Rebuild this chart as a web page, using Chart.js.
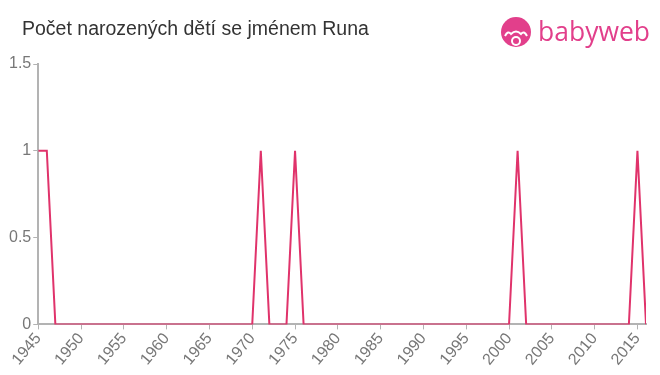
<!DOCTYPE html>
<html><head><meta charset="utf-8">
<script src="https://cdn.jsdelivr.net/npm/chart.js@4"></script>
<style>
html,body{margin:0;padding:0;background:#fff;}
#wrap{position:relative;width:660px;height:375px;}
#title{position:absolute;left:22px;top:17px;font-family:"Liberation Sans",Arial,sans-serif;font-size:19.5px;color:#333;}
#logo{position:absolute;left:500px;top:14px;width:160px;height:36px;}
canvas{position:absolute;left:0;top:0;}
</style></head>
<body><div id="wrap">
<canvas id="c" width="660" height="375"></canvas>
<div id="title">Počet narozených dětí se jménem Runa</div>
<svg id="logo" viewBox="0 0 160 36">
<circle cx="16" cy="18" r="15" fill="#e23f8b"/>
<circle cx="16" cy="27" r="5" fill="#fff"/>
<circle cx="16" cy="27" r="3" fill="#e23f8b"/>
<path d="M5 22 q3 -6 6 -2 q5 -5 10 0 q3 -4 6 2" stroke="#fff" stroke-width="2" fill="none"/>
<text x="38" y="27" font-family="Open Sans, Arial, sans-serif" font-size="26.5" fill="#e23f8b">babyweb</text>
</svg>
</div>
<script>
const years = [1945,1946,1947,1948,1949,1950,1951,1952,1953,1954,1955,1956,1957,1958,1959,1960,1961,1962,1963,1964,1965,1966,1967,1968,1969,1970,1971,1972,1973,1974,1975,1976,1977,1978,1979,1980,1981,1982,1983,1984,1985,1986,1987,1988,1989,1990,1991,1992,1993,1994,1995,1996,1997,1998,1999,2000,2001,2002,2003,2004,2005,2006,2007,2008,2009,2010,2011,2012,2013,2014,2015,2016];
const counts = [1,1,0,0,0,0,0,0,0,0,0,0,0,0,0,0,0,0,0,0,0,0,0,0,0,0,1,0,0,0,1,0,0,0,0,0,0,0,0,0,0,0,0,0,0,0,0,0,0,0,0,0,0,0,0,0,1,0,0,0,0,0,0,0,0,0,0,0,0,0,1,0];
const xTicks = [1945,1950,1955,1960,1965,1970,1975,1980,1985,1990,1995,2000,2005,2010,2015];
const yTicks = [0,0.5,1,1.5];
const points = years.map((y,i)=>({x:y,y:counts[i]}));
new Chart(document.getElementById('c'),{
  type:'line',
  data:{datasets:[{data:points,borderColor:'#e0336b',borderWidth:2,pointRadius:0,tension:0,fill:false}]},
  options:{
    responsive:false,animation:false,
    layout:{padding:{left:7,right:14,top:64,bottom:6}},
    plugins:{legend:{display:false},tooltip:{enabled:false}},
    scales:{
      x:{type:'linear',min:1945,max:2016,
        afterBuildTicks:(ax)=>{ax.ticks=xTicks.map(v=>({value:v}));},
        grid:{drawOnChartArea:false,drawTicks:true,tickLength:5,color:'#b3b3b3'},
        border:{display:true,color:'#b3b3b3',width:2},
        ticks:{autoSkip:false,maxRotation:50,minRotation:50,color:'#777',font:{family:'Liberation Sans, Arial',size:16},padding:0,
          callback:(v)=>String(v)}
      },
      y:{min:0,max:1.5,
        afterBuildTicks:(ax)=>{ax.ticks=yTicks.map(v=>({value:v}));},
        grid:{drawOnChartArea:false,drawTicks:true,tickLength:5,color:'#b3b3b3'},
        border:{display:true,color:'#b3b3b3',width:2},
        ticks:{color:'#777',font:{family:'Liberation Sans, Arial',size:16},padding:2,callback:(v)=>String(v)}
      }
    }
  }
});
</script>
</body></html>
